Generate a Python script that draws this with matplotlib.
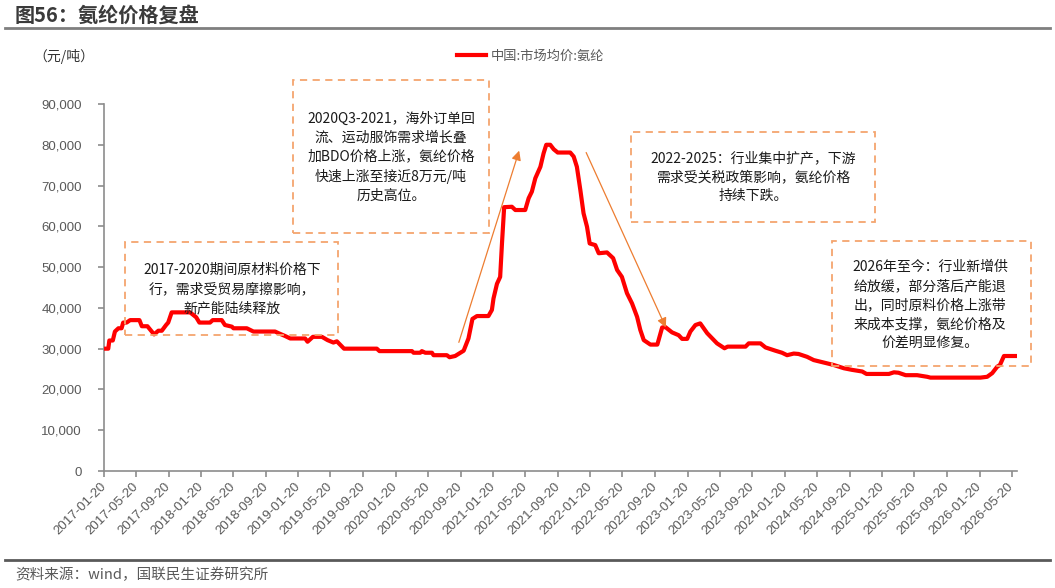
import matplotlib
matplotlib.use('Agg')
import matplotlib.pyplot as plt
import pandas as pd
from matplotlib.patches import Rectangle
from matplotlib.ticker import FuncFormatter

plt.rcParams['font.family'] = ['Noto Sans CJK SC', 'DejaVu Sans']

# ==== data (yuan / ton) ====
dates = [
    '2017-01-20', '2017-02-05', '2017-02-09', '2017-02-22', '2017-03-02', '2017-03-15',
    '2017-03-27', '2017-04-02', '2017-04-15', '2017-04-28', '2017-06-02', '2017-06-11',
    '2017-07-02', '2017-07-27', '2017-08-12', '2017-08-25', '2017-09-10', '2017-09-18',
    '2017-10-01', '2017-12-09', '2018-01-01', '2018-01-13', '2018-02-22', '2018-03-04',
    '2018-04-07', '2018-04-19', '2018-05-15', '2018-05-21', '2018-07-10', '2018-08-04',
    '2018-10-24', '2018-11-06', '2018-12-01', '2018-12-20', '2019-02-14', '2019-02-23',
    '2019-03-15', '2019-04-18', '2019-05-09', '2019-05-31', '2019-06-13', '2019-06-25',
    '2019-07-10', '2019-11-10', '2019-11-20', '2020-03-21', '2020-03-27', '2020-04-21',
    '2020-04-27', '2020-05-10', '2020-06-04', '2020-06-10', '2020-07-30', '2020-08-09',
    '2020-08-30', '2020-10-01', '2020-10-19', '2020-11-03', '2020-11-20', '2021-01-02',
    '2021-01-15', '2021-01-21', '2021-02-03', '2021-02-15', '2021-02-22', '2021-03-02',
    '2021-03-31', '2021-04-13', '2021-05-20', '2021-06-02', '2021-06-14', '2021-06-27',
    '2021-07-16', '2021-07-28', '2021-08-07', '2021-08-22', '2021-09-04', '2021-09-19',
    '2021-11-05', '2021-11-18', '2021-11-30', '2021-12-13', '2021-12-25', '2022-01-07',
    '2022-01-17', '2022-02-07', '2022-02-20', '2022-03-23', '2022-04-15', '2022-04-30',
    '2022-05-18', '2022-06-06', '2022-06-25', '2022-07-14', '2022-07-26', '2022-08-08',
    '2022-09-02', '2022-09-28', '2022-10-16', '2022-10-28', '2022-11-22', '2022-12-17',
    '2022-12-30', '2023-01-18', '2023-01-30', '2023-02-18', '2023-03-08', '2023-04-03',
    '2023-05-10', '2023-06-07', '2023-06-19', '2023-08-25', '2023-09-06', '2023-10-20',
    '2023-11-08', '2023-12-15', '2024-01-09', '2024-01-28', '2024-02-22', '2024-03-11',
    '2024-04-12', '2024-05-07', '2024-06-14', '2024-07-21', '2024-08-28', '2024-09-28',
    '2024-11-05', '2024-11-21', '2025-02-13', '2025-03-04', '2025-03-21', '2025-04-17',
    '2025-05-30', '2025-07-07', '2025-07-19', '2026-01-23', '2026-02-17', '2026-03-08',
    '2026-03-27', '2026-04-06', '2026-04-21', '2026-06-08',
]
prices = [
    30000, 30000, 32000, 32000, 34200, 35000,
    35000, 36400, 36400, 37000, 37000, 35500,
    35500, 33500, 34400, 34400, 35800, 36400,
    38900, 38900, 37700, 36400, 36400, 37000,
    37000, 35800, 35400, 35000, 35000, 34200,
    34200, 33800, 33100, 32500, 32500, 31700,
    32900, 32900, 32100, 31500, 31800, 31000,
    30000, 30000, 29400, 29400, 29000, 29000,
    29400, 29000, 29000, 28400, 28400, 27900,
    28200, 29500, 32500, 37300, 38000, 38000,
    39500, 42300, 45900, 47600, 56000, 64700,
    64800, 64000, 64000, 66900, 68500, 71800,
    74600, 77900, 80000, 80000, 78900, 78100,
    78100, 77100, 74600, 68900, 63200, 59900,
    55800, 55400, 53400, 53600, 52200, 49300,
    47600, 43600, 41100, 37800, 34600, 32100,
    31000, 31000, 35200, 35300, 34000, 33300,
    32400, 32400, 34200, 35800, 36200, 33800,
    31300, 30100, 30500, 30500, 31300, 31300,
    30300, 29500, 29000, 28400, 28800, 28700,
    28000, 27200, 26600, 26000, 25200, 24800,
    24400, 23800, 23800, 24200, 24100, 23500,
    23500, 23100, 22900, 22900, 23100, 24000,
    25600, 26000, 28200, 28200,
]
series_name = '中国:市场均价:氨纶'
tick_dates = pd.date_range('2017-01-01', periods=29, freq='4MS') + pd.Timedelta(days=19)

notes = [
    '2017-2020期间原材料价格下\n行，需求受贸易摩擦影响，\n新产能陆续释放',
    '2020Q3-2021，海外订单回\n流、运动服饰需求增长叠\n加BDO价格上涨，氨纶价格\n快速上涨至接近8万元/吨\n历史高位。',
    '2022-2025：行业集中扩产，下游\n需求受关税政策影响，氨纶价格\n持续下跌。',
    '2026年至今：行业新增供\n给放缓，部分落后产能退\n出，同时原料价格上涨带\n来成本支撑，氨纶价格及\n价差明显修复。',
]

W, H = 1055, 588
def fx(x):
    return x / W
def fy(y):
    return 1 - y / H

GRAY = '#595959'
ORANGE = '#ED7D31'
BOX = '#F4A56E'

fig = plt.figure(figsize=(W / 100, H / 100), dpi=100)
ax = fig.add_axes([fx(104), fy(471), fx(1017) - fx(104), fy(104) - fy(471)])

x = pd.to_datetime(dates)
ax.plot(x, prices, color='#FF0000', lw=3, solid_joinstyle='round', label=series_name, zorder=3)

ax.set_xlim(pd.Timestamp('2017-01-20'), pd.Timestamp('2026-06-09'))
ax.set_ylim(0, 90000)
ax.set_yticks(range(0, 90001, 10000))
ax.yaxis.set_major_formatter(FuncFormatter(lambda v, p: '{:,.0f}'.format(v)))
ax.set_xticks(tick_dates)
ax.set_xticklabels([d.strftime('%Y-%m-%d') for d in tick_dates], rotation=45,
                   ha='right', va='center', rotation_mode='anchor')

for s in ['top', 'right']:
    ax.spines[s].set_visible(False)
for s in ['left', 'bottom']:
    ax.spines[s].set_color('#8C8C8C')
    ax.spines[s].set_linewidth(1.2)
ax.tick_params(axis='both', colors='#8C8C8C', labelcolor=GRAY, labelsize=9.5, length=4, width=1.2)
ax.tick_params(axis='y', pad=12)
ax.tick_params(axis='x', pad=6)
for lab in ax.get_xticklabels() + ax.get_yticklabels():
    lab.set_family(['Liberation Sans', 'Noto Sans CJK SC'])

# ---- header / footer ----
fig.text(fx(15), fy(15), '图56：氨纶价格复盘', fontsize=14.5, fontweight='bold', color='#3A3A3A',
         ha='left', va='center')
fig.add_artist(plt.Line2D([fx(5), fx(1050)], [fy(28), fy(28)], color='#7F7F7F', lw=2))
fig.text(fx(33), fy(57), '（元/吨）', fontsize=10, color='#333333', ha='left', va='center')
fig.add_artist(plt.Line2D([fx(5), fx(1050)], [fy(560), fy(560)], color='#595959', lw=2))
fig.text(fx(15), fy(575), '资料来源：wind，国联民生证券研究所', fontsize=10.5, color=GRAY,
         ha='left', va='center')

fig.legend(loc='center left', bbox_to_anchor=(fx(445), fy(56)), frameon=False, fontsize=9.5,
           handlelength=2.2, handletextpad=0.4, labelcolor=GRAY)

# ---- annotation boxes ----
boxes = [(125, 242, 338, 335), (293, 80, 489, 233), (631, 132, 875, 222), (832, 241, 1031, 366)]
centers = [(232, 289), (391, 157), (753, 177), (930, 305)]
for (x0, y0, x1, y1), (cx, cy), txt in zip(boxes, centers, notes):
    fig.add_artist(Rectangle((fx(x0), fy(y1)), fx(x1) - fx(x0), fy(y0) - fy(y1),
                             transform=fig.transFigure, fill=False, ec=BOX,
                             ls=(0, (4, 3)), lw=1.3))
    fig.text(fx(cx), fy(cy), txt, fontsize=10, color='#1A1A1A', ha='center', va='center',
             linespacing=1.45)

# ---- trend arrows ----
for (x0, y0), (x1, y1) in [((458, 345), (520, 148)), ((585, 150), (667, 330))]:
    ax.annotate('', xy=(fx(x1), fy(y1)), xytext=(fx(x0), fy(y0)),
                xycoords='figure fraction', textcoords='figure fraction',
                arrowprops=dict(arrowstyle='-|>', color=ORANGE, lw=0.9, mutation_scale=14))

fig.savefig('out.png', dpi=100)
